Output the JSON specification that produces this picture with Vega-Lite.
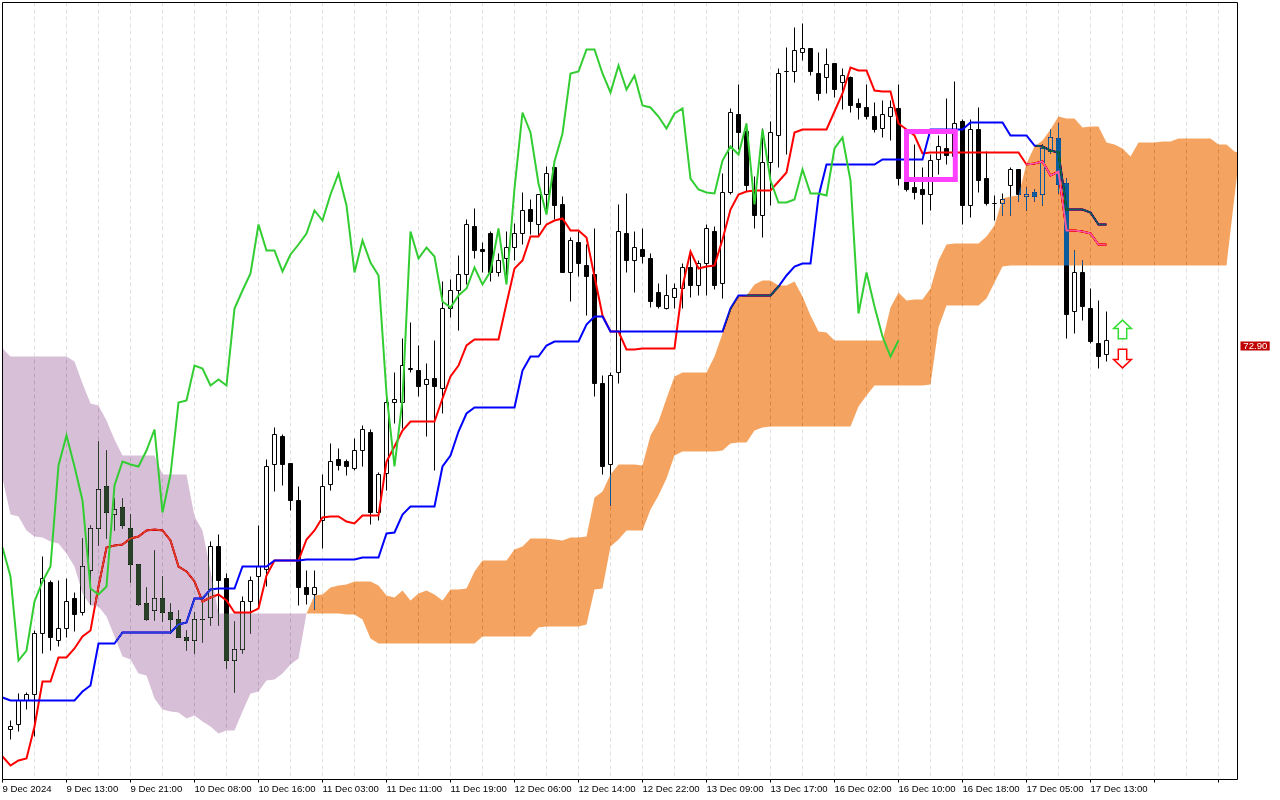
{
  "$schema": "https://vega.github.io/schema/vega-lite/v6.json",
  "description": "Ichimoku candlestick chart, December 2024",
  "width": 1235,
  "height": 777,
  "autosize": {"type": "none"},
  "padding": {"left": 2.5, "top": 2.5, "right": 42.5, "bottom": 20.5},
  "background": "#ffffff",
  "config": {
    "view": {"stroke": null},
    "axis": {"translate": 0, "labelFont": "Liberation Sans", "labelFontSize": 9.6, "labelColor": "#000000", "title": null, "domain": false, "tickColor": "#000000", "gridColor": "#e2e2e2", "gridDash": [4, 3], "gridWidth": 1}
  },
  "datasets": {
    "candles": [
      {"i":1,"open":71.221,"high":71.262,"low":71.179,"close":71.235},
      {"i":2,"open":71.243,"high":71.376,"low":71.211,"close":71.347},
      {"i":3,"open":71.347,"high":71.383,"low":71.31,"close":71.374},
      {"i":4,"open":71.374,"high":71.655,"low":71.189,"close":71.641},
      {"i":5,"open":71.641,"high":71.976,"low":71.551,"close":71.88},
      {"i":6,"open":71.864,"high":71.874,"low":71.568,"close":71.622},
      {"i":7,"open":71.612,"high":71.874,"low":71.583,"close":71.663},
      {"i":8,"open":71.663,"high":71.883,"low":71.622,"close":71.781},
      {"i":9,"open":71.794,"high":71.82,"low":71.651,"close":71.723},
      {"i":10,"open":71.731,"high":72.054,"low":71.721,"close":71.933},
      {"i":11,"open":71.918,"high":72.115,"low":71.769,"close":72.1},
      {"i":12,"open":72.1,"high":72.482,"low":72.027,"close":72.271},
      {"i":13,"open":72.285,"high":72.443,"low":72.056,"close":72.169},
      {"i":14,"open":72.161,"high":72.229,"low":72.09,"close":72.183},
      {"i":15,"open":72.192,"high":72.233,"low":72.1,"close":72.112},
      {"i":16,"open":72.1,"high":72.163,"low":71.863,"close":71.943},
      {"i":17,"open":71.944,"high":71.944,"low":71.762,"close":71.769},
      {"i":18,"open":71.772,"high":71.842,"low":71.699,"close":71.702},
      {"i":19,"open":71.742,"high":72.005,"low":71.699,"close":71.794},
      {"i":20,"open":71.794,"high":71.892,"low":71.691,"close":71.731},
      {"i":21,"open":71.733,"high":71.772,"low":71.641,"close":71.702},
      {"i":22,"open":71.702,"high":71.743,"low":71.622,"close":71.622},
      {"i":23,"open":71.623,"high":71.655,"low":71.568,"close":71.609},
      {"i":24,"open":71.609,"high":71.734,"low":71.551,"close":71.702},
      {"i":25,"open":71.702,"high":71.777,"low":71.6,"close":71.704},
      {"i":26,"open":71.711,"high":72.045,"low":71.677,"close":72.02},
      {"i":27,"open":72.021,"high":72.075,"low":71.677,"close":71.871},
      {"i":28,"open":71.882,"high":71.903,"low":71.489,"close":71.521},
      {"i":29,"open":71.521,"high":71.695,"low":71.381,"close":71.571},
      {"i":30,"open":71.571,"high":71.801,"low":71.551,"close":71.779},
      {"i":31,"open":71.779,"high":71.892,"low":71.641,"close":71.871},
      {"i":32,"open":71.889,"high":72.115,"low":71.758,"close":71.933},
      {"i":33,"open":71.921,"high":72.403,"low":71.848,"close":72.37},
      {"i":34,"open":72.38,"high":72.542,"low":72.261,"close":72.51},
      {"i":35,"open":72.501,"high":72.51,"low":72.29,"close":72.379},
      {"i":36,"open":72.382,"high":72.382,"low":72.18,"close":72.221},
      {"i":37,"open":72.223,"high":72.285,"low":71.762,"close":71.841},
      {"i":38,"open":71.842,"high":71.914,"low":71.769,"close":71.811},
      {"i":39,"open":71.811,"high":71.914,"low":71.747,"close":71.842},
      {"i":40,"open":72.137,"high":72.334,"low":72.014,"close":72.283},
      {"i":41,"open":72.293,"high":72.472,"low":72.268,"close":72.392},
      {"i":42,"open":72.402,"high":72.45,"low":72.353,"close":72.377},
      {"i":43,"open":72.393,"high":72.402,"low":72.331,"close":72.369},
      {"i":44,"open":72.361,"high":72.494,"low":72.353,"close":72.44},
      {"i":45,"open":72.442,"high":72.552,"low":72.37,"close":72.533},
      {"i":46,"open":72.52,"high":72.533,"low":72.119,"close":72.172},
      {"i":47,"open":72.172,"high":72.345,"low":72.137,"close":72.334},
      {"i":48,"open":72.341,"high":72.684,"low":72.268,"close":72.651},
      {"i":49,"open":72.651,"high":72.783,"low":72.56,"close":72.662},
      {"i":50,"open":72.651,"high":72.931,"low":72.538,"close":72.813},
      {"i":51,"open":72.797,"high":73.001,"low":72.783,"close":72.799},
      {"i":52,"open":72.791,"high":72.899,"low":72.679,"close":72.72},
      {"i":53,"open":72.73,"high":72.822,"low":72.501,"close":72.752},
      {"i":54,"open":72.754,"high":72.924,"low":72.353,"close":72.72},
      {"i":55,"open":72.713,"high":73.182,"low":72.603,"close":73.063},
      {"i":56,"open":73.061,"high":73.191,"low":73.022,"close":73.141},
      {"i":57,"open":73.141,"high":73.292,"low":72.968,"close":73.211},
      {"i":58,"open":73.211,"high":73.452,"low":73.168,"close":73.43},
      {"i":59,"open":73.423,"high":73.5,"low":73.281,"close":73.318},
      {"i":60,"open":73.321,"high":73.351,"low":73.219,"close":73.311},
      {"i":61,"open":73.391,"high":73.398,"low":73.179,"close":73.22},
      {"i":62,"open":73.22,"high":73.303,"low":73.201,"close":73.273},
      {"i":63,"open":73.28,"high":73.401,"low":73.208,"close":73.328},
      {"i":64,"open":73.329,"high":73.434,"low":73.271,"close":73.391},
      {"i":65,"open":73.391,"high":73.57,"low":73.34,"close":73.491},
      {"i":66,"open":73.493,"high":73.541,"low":73.388,"close":73.442},
      {"i":67,"open":73.43,"high":73.561,"low":73.383,"close":73.561},
      {"i":68,"open":73.561,"high":73.682,"low":73.478,"close":73.653},
      {"i":69,"open":73.679,"high":73.682,"low":73.453,"close":73.512},
      {"i":70,"open":73.515,"high":73.554,"low":73.219,"close":73.219},
      {"i":71,"open":73.22,"high":73.373,"low":73.092,"close":73.36},
      {"i":72,"open":73.351,"high":73.398,"low":73.201,"close":73.259},
      {"i":73,"open":73.251,"high":73.34,"low":73.031,"close":73.201},
      {"i":74,"open":73.211,"high":73.413,"low":72.679,"close":72.732},
      {"i":75,"open":72.732,"high":72.77,"low":72.338,"close":72.37},
      {"i":76,"open":72.38,"high":72.783,"low":72.202,"close":72.768},
      {"i":77,"open":72.783,"high":73.515,"low":72.735,"close":73.398},
      {"i":78,"open":73.391,"high":73.563,"low":73.219,"close":73.271},
      {"i":79,"open":73.271,"high":73.401,"low":73.131,"close":73.328},
      {"i":80,"open":73.321,"high":73.413,"low":73.26,"close":73.289},
      {"i":81,"open":73.282,"high":73.304,"low":73.066,"close":73.092},
      {"i":82,"open":73.133,"high":73.172,"low":73.06,"close":73.07},
      {"i":83,"open":73.06,"high":73.212,"low":73.056,"close":73.12},
      {"i":84,"open":73.111,"high":73.172,"low":73.063,"close":73.151},
      {"i":85,"open":73.151,"high":73.26,"low":73.063,"close":73.242},
      {"i":86,"open":73.242,"high":73.311,"low":73.111,"close":73.162},
      {"i":87,"open":73.162,"high":73.274,"low":73.118,"close":73.257},
      {"i":88,"open":73.257,"high":73.43,"low":73.118,"close":73.413},
      {"i":89,"open":73.401,"high":73.42,"low":73.146,"close":73.161},
      {"i":90,"open":73.172,"high":73.654,"low":73.107,"close":73.57},
      {"i":91,"open":73.569,"high":73.935,"low":73.559,"close":73.92},
      {"i":92,"open":73.912,"high":74.044,"low":73.756,"close":73.831},
      {"i":93,"open":73.836,"high":73.872,"low":73.573,"close":73.6},
      {"i":94,"open":73.578,"high":73.639,"low":73.41,"close":73.468},
      {"i":95,"open":73.468,"high":73.85,"low":73.372,"close":73.702},
      {"i":96,"open":73.702,"high":73.88,"low":73.512,"close":73.833},
      {"i":97,"open":73.818,"high":74.113,"low":73.678,"close":74.091},
      {"i":98,"open":74.098,"high":74.203,"low":73.734,"close":74.1},
      {"i":99,"open":74.098,"high":74.292,"low":74.05,"close":74.192},
      {"i":100,"open":74.181,"high":74.31,"low":74.149,"close":74.2},
      {"i":101,"open":74.2,"high":74.2,"low":74.081,"close":74.098},
      {"i":102,"open":74.091,"high":74.183,"low":73.971,"close":74.003},
      {"i":103,"open":74.072,"high":74.2,"low":74.003,"close":74.13},
      {"i":104,"open":74.132,"high":74.132,"low":73.986,"close":74.018},
      {"i":105,"open":74.052,"high":74.113,"low":73.931,"close":74.082},
      {"i":106,"open":74.073,"high":74.076,"low":73.919,"close":73.95},
      {"i":107,"open":73.961,"high":73.982,"low":73.887,"close":73.941},
      {"i":108,"open":73.942,"high":74.044,"low":73.887,"close":73.901},
      {"i":109,"open":73.904,"high":73.963,"low":73.831,"close":73.847},
      {"i":110,"open":73.85,"high":73.974,"low":73.81,"close":73.912},
      {"i":111,"open":73.901,"high":73.974,"low":73.799,"close":73.942},
      {"i":112,"open":73.935,"high":74.044,"low":73.6,"close":73.632},
      {"i":113,"open":73.632,"high":73.66,"low":73.575,"close":73.581},
      {"i":114,"open":73.592,"high":73.78,"low":73.54,"close":73.569},
      {"i":115,"open":73.583,"high":73.68,"low":73.43,"close":73.562},
      {"i":116,"open":73.562,"high":73.734,"low":73.49,"close":73.709},
      {"i":117,"open":73.712,"high":73.821,"low":73.65,"close":73.77},
      {"i":118,"open":73.763,"high":73.982,"low":73.69,"close":73.732},
      {"i":119,"open":73.729,"high":74.054,"low":73.7,"close":73.872},
      {"i":120,"open":73.881,"high":73.887,"low":73.43,"close":73.512},
      {"i":121,"open":73.513,"high":73.887,"low":73.461,"close":73.843},
      {"i":122,"open":73.843,"high":73.942,"low":73.569,"close":73.621},
      {"i":123,"open":73.632,"high":73.751,"low":73.513,"close":73.522},
      {"i":124,"open":73.521,"high":73.556,"low":73.449,"close":73.522},
      {"i":125,"open":73.521,"high":73.563,"low":73.47,"close":73.54},
      {"i":126,"open":73.601,"high":73.68,"low":73.467,"close":73.671},
      {"i":127,"open":73.671,"high":73.671,"low":73.53,"close":73.56},
      {"i":128,"open":73.553,"high":73.592,"low":73.49,"close":73.562},
      {"i":129,"open":73.57,"high":73.583,"low":73.53,"close":73.551},
      {"i":130,"open":73.562,"high":73.78,"low":73.511,"close":73.763},
      {"i":131,"open":73.748,"high":73.843,"low":73.741,"close":73.811},
      {"i":132,"open":73.804,"high":73.872,"low":73.566,"close":73.605},
      {"i":133,"open":73.61,"high":73.632,"low":72.932,"close":73.038},
      {"i":134,"open":73.048,"high":73.314,"low":72.951,"close":73.22},
      {"i":135,"open":73.22,"high":73.274,"low":73.009,"close":73.07},
      {"i":136,"open":73.063,"high":73.151,"low":72.907,"close":72.92},
      {"i":137,"open":72.911,"high":73.095,"low":72.8,"close":72.851},
      {"i":138,"open":72.862,"high":73.051,"low":72.83,"close":72.923}
    ],
    "ichimoku": [
      {"i":0,"tenkan":71.101,"kijun":71.36,"chikou":72.017},
      {"i":1,"tenkan":71.064,"kijun":71.347,"chikou":71.889},
      {"i":2,"tenkan":71.084,"kijun":71.347,"chikou":71.524},
      {"i":3,"tenkan":71.094,"kijun":71.347,"chikou":71.568},
      {"i":4,"tenkan":71.233,"kijun":71.347,"chikou":71.779},
      {"i":5,"tenkan":71.43,"kijun":71.347,"chikou":71.867},
      {"i":6,"tenkan":71.43,"kijun":71.347,"chikou":71.935},
      {"i":7,"tenkan":71.537,"kijun":71.347,"chikou":72.377},
      {"i":8,"tenkan":71.537,"kijun":71.347,"chikou":72.508},
      {"i":9,"tenkan":71.575,"kijun":71.347,"chikou":72.37},
      {"i":10,"tenkan":71.626,"kijun":71.389,"chikou":72.224},
      {"i":11,"tenkan":71.655,"kijun":71.412,"chikou":71.838},
      {"i":12,"tenkan":71.845,"kijun":71.599,"chikou":71.811},
      {"i":13,"tenkan":72.017,"kijun":71.599,"chikou":71.845},
      {"i":14,"tenkan":72.026,"kijun":71.599,"chikou":72.287},
      {"i":15,"tenkan":72.029,"kijun":71.644,"chikou":72.392},
      {"i":16,"tenkan":72.054,"kijun":71.644,"chikou":72.38},
      {"i":17,"tenkan":72.064,"kijun":71.644,"chikou":72.373},
      {"i":18,"tenkan":72.093,"kijun":71.644,"chikou":72.443},
      {"i":19,"tenkan":72.094,"kijun":71.644,"chikou":72.533},
      {"i":20,"tenkan":72.09,"kijun":71.644,"chikou":72.17},
      {"i":21,"tenkan":72.049,"kijun":71.644,"chikou":72.334},
      {"i":22,"tenkan":71.935,"kijun":71.682,"chikou":72.651},
      {"i":23,"tenkan":71.911,"kijun":71.689,"chikou":72.659},
      {"i":24,"tenkan":71.867,"kijun":71.794,"chikou":72.813},
      {"i":25,"tenkan":71.779,"kijun":71.794,"chikou":72.801},
      {"i":26,"tenkan":71.798,"kijun":71.833,"chikou":72.724},
      {"i":27,"tenkan":71.81,"kijun":71.839,"chikou":72.752},
      {"i":28,"tenkan":71.787,"kijun":71.839,"chikou":72.724},
      {"i":29,"tenkan":71.731,"kijun":71.839,"chikou":73.063},
      {"i":30,"tenkan":71.731,"kijun":71.935,"chikou":73.139},
      {"i":31,"tenkan":71.731,"kijun":71.935,"chikou":73.216},
      {"i":32,"tenkan":71.749,"kijun":71.935,"chikou":73.428},
      {"i":33,"tenkan":71.896,"kijun":71.935,"chikou":73.318},
      {"i":34,"tenkan":71.962,"kijun":71.962,"chikou":73.314},
      {"i":35,"tenkan":71.962,"kijun":71.962,"chikou":73.223},
      {"i":36,"tenkan":71.962,"kijun":71.962,"chikou":73.299},
      {"i":37,"tenkan":71.962,"kijun":71.962,"chikou":73.34},
      {"i":38,"tenkan":72.052,"kijun":71.965,"chikou":73.391},
      {"i":39,"tenkan":72.093,"kijun":71.965,"chikou":73.49},
      {"i":40,"tenkan":72.149,"kijun":71.965,"chikou":73.447},
      {"i":41,"tenkan":72.152,"kijun":71.965,"chikou":73.559},
      {"i":42,"tenkan":72.152,"kijun":71.965,"chikou":73.651},
      {"i":43,"tenkan":72.13,"kijun":71.965,"chikou":73.512},
      {"i":44,"tenkan":72.122,"kijun":71.965,"chikou":73.221},
      {"i":45,"tenkan":72.155,"kijun":71.971,"chikou":73.358},
      {"i":46,"tenkan":72.157,"kijun":71.974,"chikou":73.264},
      {"i":47,"tenkan":72.157,"kijun":71.974,"chikou":73.206},
      {"i":48,"tenkan":72.392,"kijun":72.08,"chikou":72.691},
      {"i":49,"tenkan":72.458,"kijun":72.082,"chikou":72.373},
      {"i":50,"tenkan":72.528,"kijun":72.159,"chikou":72.662},
      {"i":51,"tenkan":72.567,"kijun":72.195,"chikou":73.398},
      {"i":52,"tenkan":72.567,"kijun":72.195,"chikou":73.282},
      {"i":53,"tenkan":72.567,"kijun":72.195,"chikou":73.327},
      {"i":54,"tenkan":72.567,"kijun":72.195,"chikou":73.289},
      {"i":55,"tenkan":72.669,"kijun":72.37,"chikou":73.092},
      {"i":56,"tenkan":72.764,"kijun":72.417,"chikou":73.067},
      {"i":57,"tenkan":72.815,"kijun":72.523,"chikou":73.121},
      {"i":58,"tenkan":72.902,"kijun":72.603,"chikou":73.15},
      {"i":59,"tenkan":72.928,"kijun":72.627,"chikou":73.242},
      {"i":60,"tenkan":72.928,"kijun":72.627,"chikou":73.165},
      {"i":61,"tenkan":72.928,"kijun":72.627,"chikou":73.223},
      {"i":62,"tenkan":72.928,"kijun":72.627,"chikou":73.41},
      {"i":63,"tenkan":73.084,"kijun":72.627,"chikou":73.165},
      {"i":64,"tenkan":73.238,"kijun":72.627,"chikou":73.587},
      {"i":65,"tenkan":73.274,"kijun":72.793,"chikou":73.918},
      {"i":66,"tenkan":73.376,"kijun":72.851,"chikou":73.831},
      {"i":67,"tenkan":73.376,"kijun":72.851,"chikou":73.609},
      {"i":68,"tenkan":73.431,"kijun":72.902,"chikou":73.475},
      {"i":69,"tenkan":73.449,"kijun":72.92,"chikou":73.704},
      {"i":70,"tenkan":73.455,"kijun":72.92,"chikou":73.828},
      {"i":71,"tenkan":73.402,"kijun":72.92,"chikou":74.09},
      {"i":72,"tenkan":73.402,"kijun":72.92,"chikou":74.098},
      {"i":73,"tenkan":73.373,"kijun":72.994,"chikou":74.193},
      {"i":74,"tenkan":73.201,"kijun":73.029,"chikou":74.197},
      {"i":75,"tenkan":73.033,"kijun":73.029,"chikou":74.09},
      {"i":76,"tenkan":72.961,"kijun":72.961,"chikou":74.006},
      {"i":77,"tenkan":72.961,"kijun":72.961,"chikou":74.127},
      {"i":78,"tenkan":72.885,"kijun":72.961,"chikou":74.022},
      {"i":79,"tenkan":72.885,"kijun":72.961,"chikou":74.08},
      {"i":80,"tenkan":72.889,"kijun":72.961,"chikou":73.949},
      {"i":81,"tenkan":72.889,"kijun":72.961,"chikou":73.942},
      {"i":82,"tenkan":72.889,"kijun":72.961,"chikou":73.901},
      {"i":83,"tenkan":72.889,"kijun":72.961,"chikou":73.85},
      {"i":84,"tenkan":72.889,"kijun":72.961,"chikou":73.913},
      {"i":85,"tenkan":73.158,"kijun":72.961,"chikou":73.937},
      {"i":86,"tenkan":73.311,"kijun":72.961,"chikou":73.631},
      {"i":87,"tenkan":73.238,"kijun":72.961,"chikou":73.583},
      {"i":88,"tenkan":73.248,"kijun":72.961,"chikou":73.57},
      {"i":89,"tenkan":73.251,"kijun":72.961,"chikou":73.563},
      {"i":90,"tenkan":73.362,"kijun":72.961,"chikou":73.708},
      {"i":91,"tenkan":73.493,"kijun":73.063,"chikou":73.77},
      {"i":92,"tenkan":73.559,"kijun":73.121,"chikou":73.734},
      {"i":93,"tenkan":73.573,"kijun":73.121,"chikou":73.872},
      {"i":94,"tenkan":73.578,"kijun":73.121,"chikou":73.515},
      {"i":95,"tenkan":73.578,"kijun":73.121,"chikou":73.843},
      {"i":96,"tenkan":73.578,"kijun":73.121,"chikou":73.624},
      {"i":97,"tenkan":73.617,"kijun":73.158,"chikou":73.527},
      {"i":98,"tenkan":73.657,"kijun":73.206,"chikou":73.525},
      {"i":99,"tenkan":73.833,"kijun":73.248,"chikou":73.541},
      {"i":100,"tenkan":73.843,"kijun":73.257,"chikou":73.671},
      {"i":101,"tenkan":73.845,"kijun":73.26,"chikou":73.566},
      {"i":102,"tenkan":73.845,"kijun":73.551,"chikou":73.566},
      {"i":103,"tenkan":73.846,"kijun":73.69,"chikou":73.556},
      {"i":104,"tenkan":73.923,"kijun":73.69,"chikou":73.763},
      {"i":105,"tenkan":74.003,"kijun":73.69,"chikou":73.811},
      {"i":106,"tenkan":74.116,"kijun":73.69,"chikou":73.624},
      {"i":107,"tenkan":74.103,"kijun":73.69,"chikou":73.042},
      {"i":108,"tenkan":74.103,"kijun":73.69,"chikou":73.221},
      {"i":109,"tenkan":74.015,"kijun":73.69,"chikou":73.069},
      {"i":110,"tenkan":74.011,"kijun":73.712,"chikou":72.939},
      {"i":111,"tenkan":74.011,"kijun":73.712,"chikou":72.851},
      {"i":112,"tenkan":73.872,"kijun":73.712,"chikou":72.924},
      {"i":113,"tenkan":73.843,"kijun":73.712},
      {"i":114,"tenkan":73.817,"kijun":73.712},
      {"i":115,"tenkan":73.738,"kijun":73.712},
      {"i":116,"tenkan":73.743,"kijun":73.846},
      {"i":117,"tenkan":73.743,"kijun":73.846},
      {"i":118,"tenkan":73.743,"kijun":73.846},
      {"i":119,"tenkan":73.743,"kijun":73.846},
      {"i":120,"tenkan":73.745,"kijun":73.843},
      {"i":121,"tenkan":73.745,"kijun":73.875},
      {"i":122,"tenkan":73.745,"kijun":73.875},
      {"i":123,"tenkan":73.745,"kijun":73.875},
      {"i":124,"tenkan":73.745,"kijun":73.875},
      {"i":125,"tenkan":73.745,"kijun":73.875},
      {"i":126,"tenkan":73.745,"kijun":73.818},
      {"i":127,"tenkan":73.745,"kijun":73.818},
      {"i":128,"tenkan":73.69,"kijun":73.818},
      {"i":129,"tenkan":73.697,"kijun":73.777},
      {"i":130,"tenkan":73.705,"kijun":73.77},
      {"i":131,"tenkan":73.646,"kijun":73.755},
      {"i":132,"tenkan":73.661,"kijun":73.744},
      {"i":133,"tenkan":73.403,"kijun":73.496},
      {"i":134,"tenkan":73.403,"kijun":73.496},
      {"i":135,"tenkan":73.398,"kijun":73.493},
      {"i":136,"tenkan":73.391,"kijun":73.483},
      {"i":137,"tenkan":73.343,"kijun":73.429},
      {"i":138,"tenkan":73.34,"kijun":73.429}
    ],
    "cloud": [
      {"i":0,"top":72.888,"bottom":72.319,"kumo":"down"},
      {"i":1,"top":72.854,"bottom":72.159,"kumo":"down"},
      {"i":2,"top":72.854,"bottom":72.151,"kumo":"down"},
      {"i":3,"top":72.854,"bottom":72.093,"kumo":"down"},
      {"i":4,"top":72.854,"bottom":72.064,"kumo":"down"},
      {"i":5,"top":72.854,"bottom":72.061,"kumo":"down"},
      {"i":6,"top":72.854,"bottom":72.042,"kumo":"down"},
      {"i":7,"top":72.854,"bottom":72.035,"kumo":"down"},
      {"i":8,"top":72.854,"bottom":71.991,"kumo":"down"},
      {"i":9,"top":72.829,"bottom":71.933,"kumo":"down"},
      {"i":10,"top":72.734,"bottom":71.816,"kumo":"down"},
      {"i":11,"top":72.647,"bottom":71.765,"kumo":"down"},
      {"i":12,"top":72.64,"bottom":71.758,"kumo":"down"},
      {"i":13,"top":72.574,"bottom":71.714,"kumo":"down"},
      {"i":14,"top":72.487,"bottom":71.626,"kumo":"down"},
      {"i":15,"top":72.417,"bottom":71.539,"kumo":"down"},
      {"i":16,"top":72.417,"bottom":71.529,"kumo":"down"},
      {"i":17,"top":72.417,"bottom":71.466,"kumo":"down"},
      {"i":18,"top":72.417,"bottom":71.456,"kumo":"down"},
      {"i":19,"top":72.417,"bottom":71.357,"kumo":"down"},
      {"i":20,"top":72.338,"bottom":71.31,"kumo":"down"},
      {"i":21,"top":72.338,"bottom":71.298,"kumo":"down"},
      {"i":22,"top":72.338,"bottom":71.294,"kumo":"down"},
      {"i":23,"top":72.338,"bottom":71.269,"kumo":"down"},
      {"i":24,"top":72.151,"bottom":71.284,"kumo":"down"},
      {"i":25,"top":72.093,"bottom":71.254,"kumo":"down"},
      {"i":26,"top":71.918,"bottom":71.233,"kumo":"down"},
      {"i":27,"top":71.728,"bottom":71.204,"kumo":"down"},
      {"i":28,"top":71.728,"bottom":71.218,"kumo":"down"},
      {"i":29,"top":71.728,"bottom":71.215,"kumo":"down"},
      {"i":30,"top":71.728,"bottom":71.298,"kumo":"down"},
      {"i":31,"top":71.728,"bottom":71.378,"kumo":"down"},
      {"i":32,"top":71.728,"bottom":71.386,"kumo":"down"},
      {"i":33,"top":71.728,"bottom":71.437,"kumo":"down"},
      {"i":34,"top":71.728,"bottom":71.44,"kumo":"down"},
      {"i":35,"top":71.728,"bottom":71.466,"kumo":"down"},
      {"i":36,"top":71.728,"bottom":71.507,"kumo":"down"},
      {"i":37,"top":71.728,"bottom":71.532,"kumo":"down"},
      {"i":38,"top":71.728,"bottom":71.728,"kumo":"down"},
      {"i":38,"top":71.729,"bottom":71.729,"kumo":"up"},
      {"i":39,"top":71.809,"bottom":71.726,"kumo":"up"},
      {"i":40,"top":71.813,"bottom":71.726,"kumo":"up"},
      {"i":41,"top":71.841,"bottom":71.726,"kumo":"up"},
      {"i":42,"top":71.851,"bottom":71.726,"kumo":"up"},
      {"i":43,"top":71.857,"bottom":71.723,"kumo":"up"},
      {"i":44,"top":71.869,"bottom":71.723,"kumo":"up"},
      {"i":45,"top":71.869,"bottom":71.7,"kumo":"up"},
      {"i":46,"top":71.866,"bottom":71.62,"kumo":"up"},
      {"i":47,"top":71.851,"bottom":71.598,"kumo":"up"},
      {"i":48,"top":71.809,"bottom":71.598,"kumo":"up"},
      {"i":49,"top":71.797,"bottom":71.598,"kumo":"up"},
      {"i":50,"top":71.828,"bottom":71.598,"kumo":"up"},
      {"i":51,"top":71.787,"bottom":71.598,"kumo":"up"},
      {"i":52,"top":71.816,"bottom":71.598,"kumo":"up"},
      {"i":53,"top":71.827,"bottom":71.598,"kumo":"up"},
      {"i":54,"top":71.813,"bottom":71.598,"kumo":"up"},
      {"i":55,"top":71.783,"bottom":71.598,"kumo":"up"},
      {"i":56,"top":71.831,"bottom":71.598,"kumo":"up"},
      {"i":57,"top":71.831,"bottom":71.598,"kumo":"up"},
      {"i":58,"top":71.838,"bottom":71.598,"kumo":"up"},
      {"i":59,"top":71.911,"bottom":71.598,"kumo":"up"},
      {"i":60,"top":71.962,"bottom":71.627,"kumo":"up"},
      {"i":61,"top":71.962,"bottom":71.627,"kumo":"up"},
      {"i":62,"top":71.962,"bottom":71.627,"kumo":"up"},
      {"i":63,"top":71.962,"bottom":71.627,"kumo":"up"},
      {"i":64,"top":72.009,"bottom":71.627,"kumo":"up"},
      {"i":65,"top":72.023,"bottom":71.627,"kumo":"up"},
      {"i":66,"top":72.057,"bottom":71.627,"kumo":"up"},
      {"i":67,"top":72.057,"bottom":71.668,"kumo":"up"},
      {"i":68,"top":72.054,"bottom":71.671,"kumo":"up"},
      {"i":69,"top":72.053,"bottom":71.671,"kumo":"up"},
      {"i":70,"top":72.047,"bottom":71.671,"kumo":"up"},
      {"i":71,"top":72.061,"bottom":71.671,"kumo":"up"},
      {"i":72,"top":72.061,"bottom":71.671,"kumo":"up"},
      {"i":73,"top":72.064,"bottom":71.678,"kumo":"up"},
      {"i":74,"top":72.236,"bottom":71.831,"kumo":"up"},
      {"i":75,"top":72.261,"bottom":71.838,"kumo":"up"},
      {"i":76,"top":72.334,"bottom":72.02,"kumo":"up"},
      {"i":77,"top":72.378,"bottom":72.05,"kumo":"up"},
      {"i":78,"top":72.378,"bottom":72.093,"kumo":"up"},
      {"i":79,"top":72.378,"bottom":72.093,"kumo":"up"},
      {"i":80,"top":72.377,"bottom":72.093,"kumo":"up"},
      {"i":81,"top":72.508,"bottom":72.181,"kumo":"up"},
      {"i":82,"top":72.567,"bottom":72.246,"kumo":"up"},
      {"i":83,"top":72.669,"bottom":72.32,"kumo":"up"},
      {"i":84,"top":72.763,"bottom":72.421,"kumo":"up"},
      {"i":85,"top":72.781,"bottom":72.438,"kumo":"up"},
      {"i":86,"top":72.781,"bottom":72.438,"kumo":"up"},
      {"i":87,"top":72.781,"bottom":72.438,"kumo":"up"},
      {"i":88,"top":72.781,"bottom":72.438,"kumo":"up"},
      {"i":89,"top":72.851,"bottom":72.438,"kumo":"up"},
      {"i":90,"top":72.953,"bottom":72.441,"kumo":"up"},
      {"i":91,"top":73.062,"bottom":72.472,"kumo":"up"},
      {"i":92,"top":73.116,"bottom":72.475,"kumo":"up"},
      {"i":93,"top":73.121,"bottom":72.475,"kumo":"up"},
      {"i":94,"top":73.169,"bottom":72.53,"kumo":"up"},
      {"i":95,"top":73.183,"bottom":72.542,"kumo":"up"},
      {"i":96,"top":73.186,"bottom":72.545,"kumo":"up"},
      {"i":97,"top":73.161,"bottom":72.545,"kumo":"up"},
      {"i":98,"top":73.164,"bottom":72.545,"kumo":"up"},
      {"i":99,"top":73.182,"bottom":72.545,"kumo":"up"},
      {"i":100,"top":73.113,"bottom":72.545,"kumo":"up"},
      {"i":101,"top":73.033,"bottom":72.545,"kumo":"up"},
      {"i":102,"top":72.96,"bottom":72.545,"kumo":"up"},
      {"i":103,"top":72.957,"bottom":72.545,"kumo":"up"},
      {"i":104,"top":72.921,"bottom":72.545,"kumo":"up"},
      {"i":105,"top":72.921,"bottom":72.545,"kumo":"up"},
      {"i":106,"top":72.921,"bottom":72.545,"kumo":"up"},
      {"i":107,"top":72.921,"bottom":72.632,"kumo":"up"},
      {"i":108,"top":72.921,"bottom":72.683,"kumo":"up"},
      {"i":109,"top":72.921,"bottom":72.727,"kumo":"up"},
      {"i":110,"top":72.921,"bottom":72.727,"kumo":"up"},
      {"i":111,"top":73.067,"bottom":72.727,"kumo":"up"},
      {"i":112,"top":73.132,"bottom":72.727,"kumo":"up"},
      {"i":113,"top":73.099,"bottom":72.727,"kumo":"up"},
      {"i":114,"top":73.103,"bottom":72.727,"kumo":"up"},
      {"i":115,"top":73.103,"bottom":72.727,"kumo":"up"},
      {"i":116,"top":73.15,"bottom":72.73,"kumo":"up"},
      {"i":117,"top":73.274,"bottom":72.98,"kumo":"up"},
      {"i":118,"top":73.344,"bottom":73.077,"kumo":"up"},
      {"i":119,"top":73.347,"bottom":73.077,"kumo":"up"},
      {"i":120,"top":73.347,"bottom":73.077,"kumo":"up"},
      {"i":121,"top":73.347,"bottom":73.077,"kumo":"up"},
      {"i":122,"top":73.347,"bottom":73.077,"kumo":"up"},
      {"i":123,"top":73.379,"bottom":73.107,"kumo":"up"},
      {"i":124,"top":73.427,"bottom":73.177,"kumo":"up"},
      {"i":125,"top":73.544,"bottom":73.248,"kumo":"up"},
      {"i":126,"top":73.551,"bottom":73.252,"kumo":"up"},
      {"i":127,"top":73.558,"bottom":73.252,"kumo":"up"},
      {"i":128,"top":73.697,"bottom":73.252,"kumo":"up"},
      {"i":129,"top":73.77,"bottom":73.252,"kumo":"up"},
      {"i":130,"top":73.799,"bottom":73.252,"kumo":"up"},
      {"i":131,"top":73.843,"bottom":73.252,"kumo":"up"},
      {"i":132,"top":73.904,"bottom":73.252,"kumo":"up"},
      {"i":133,"top":73.894,"bottom":73.252,"kumo":"up"},
      {"i":134,"top":73.894,"bottom":73.252,"kumo":"up"},
      {"i":135,"top":73.854,"bottom":73.252,"kumo":"up"},
      {"i":136,"top":73.86,"bottom":73.252,"kumo":"up"},
      {"i":137,"top":73.86,"bottom":73.252,"kumo":"up"},
      {"i":138,"top":73.789,"bottom":73.252,"kumo":"up"},
      {"i":139,"top":73.78,"bottom":73.252,"kumo":"up"},
      {"i":140,"top":73.763,"bottom":73.252,"kumo":"up"},
      {"i":141,"top":73.726,"bottom":73.252,"kumo":"up"},
      {"i":142,"top":73.789,"bottom":73.252,"kumo":"up"},
      {"i":143,"top":73.789,"bottom":73.252,"kumo":"up"},
      {"i":144,"top":73.789,"bottom":73.252,"kumo":"up"},
      {"i":145,"top":73.792,"bottom":73.252,"kumo":"up"},
      {"i":146,"top":73.792,"bottom":73.252,"kumo":"up"},
      {"i":147,"top":73.806,"bottom":73.252,"kumo":"up"},
      {"i":148,"top":73.806,"bottom":73.252,"kumo":"up"},
      {"i":149,"top":73.806,"bottom":73.252,"kumo":"up"},
      {"i":150,"top":73.806,"bottom":73.252,"kumo":"up"},
      {"i":151,"top":73.806,"bottom":73.252,"kumo":"up"},
      {"i":152,"top":73.781,"bottom":73.252,"kumo":"up"},
      {"i":153,"top":73.78,"bottom":73.252,"kumo":"up"},
      {"i":154,"top":73.748,"bottom":73.551,"kumo":"up"},
      {"i":154.375,"top":73.745,"bottom":73.66,"kumo":"up"}
    ]
  },
  "encoding": {
    "x": {
      "field": "i",
      "type": "quantitative",
      "scale": {"domain": [0, 154.375], "nice": false, "zero": false, "padding": 0},
      "axis": {
        "values": [0,4,8,12,16,20,24,28,32,36,40,44,48,52,56,60,64,68,72,76,80,84,88,92,96,100,104,108,112,116,120,124,128,132,136,140,144,148,152],
        "grid": true,
        "tickSize": 3,
        "tickOpacity": {"condition": {"test": "datum.value % 8 == 0", "value": 1}, "value": 0},
        "labelAlign": "left",
        "labelBaseline": "top",
        "labelPadding": 1,
        "labelFlush": false,
        "labelBound": false,
        "labelOverlap": false,
        "labelExpr": "datum.value % 8 == 0 ? (['9 Dec 2024','9 Dec 13:00','9 Dec 21:00','10 Dec 08:00','10 Dec 16:00','11 Dec 03:00','11 Dec 11:00','11 Dec 19:00','12 Dec 06:00','12 Dec 14:00','12 Dec 22:00','13 Dec 09:00','13 Dec 17:00','16 Dec 02:00','16 Dec 10:00','16 Dec 18:00','17 Dec 05:00','17 Dec 13:00'][datum.value / 8] || '') : ''"
      }
    }
  },
  "layer": [
    {
      "data": {"values": [{"price": 72.9}]},
      "mark": {"type": "rule", "color": "#c00000", "strokeWidth": 1},
      "encoding": {
        "x": {"datum": 0, "type": "quantitative"},
        "x2": {"datum": 154.375},
        "y": {
          "field": "price",
          "type": "quantitative",
          "scale": {"domain": [71.002, 74.4006], "nice": false, "zero": false, "round": true},
          "axis": {
            "orient": "right",
            "values": [71.15,71.3,71.45,71.6,71.75,71.9,72.05,72.2,72.35,72.5,72.65,72.8,72.95,73.1,73.25,73.4,73.55,73.7,73.85,74,74.15,74.3],
            "format": ".2f",
            "grid": true,
            "tickSize": 3,
            "labelPadding": 2,
            "labelFlush": false,
            "labelBound": false,
            "labelOverlap": false
          }
        }
      }
    },
    {
      "data": {"name": "candles"},
      "mark": {"type": "rule", "color": "#000000", "strokeWidth": 1},
      "encoding": {
        "y": {"field": "low", "type": "quantitative", "scale": {"domain": [71.002, 74.4006], "nice": false, "zero": false, "round": true}, "axis": null},
        "y2": {"field": "high"}
      }
    },
    {
      "data": {"name": "candles"},
      "mark": {"type": "bar", "size": 4, "orient": "vertical", "stroke": "#000000", "strokeWidth": 1},
      "encoding": {
        "y": {"field": "open", "type": "quantitative", "scale": {"domain": [71.002, 74.4006], "nice": false, "zero": false, "round": true}, "axis": null, "stack": null},
        "y2": {"field": "close"},
        "fill": {"condition": {"test": "datum.close >= datum.open", "value": "#ffffff"}, "value": "#000000"}
      }
    },
    {
      "data": {"name": "ichimoku"},
      "mark": {"type": "line", "color": "#ff0000", "strokeWidth": 2},
      "encoding": {
        "y": {"field": "tenkan", "type": "quantitative", "scale": {"domain": [71.002, 74.4006], "nice": false, "zero": false, "round": true}, "axis": null}
      }
    },
    {
      "data": {"name": "ichimoku"},
      "mark": {"type": "line", "color": "#0000ff", "strokeWidth": 2},
      "encoding": {
        "y": {"field": "kijun", "type": "quantitative", "scale": {"domain": [71.002, 74.4006], "nice": false, "zero": false, "round": true}, "axis": null}
      }
    },
    {
      "data": {"name": "cloud"},
      "mark": {"type": "area", "blend": "difference"},
      "encoding": {
        "y": {"field": "top", "type": "quantitative", "scale": {"domain": [71.002, 74.4006], "nice": false, "zero": false, "round": true}, "axis": null, "stack": null},
        "y2": {"field": "bottom"},
        "color": {"field": "kumo", "type": "nominal", "legend": null, "scale": {"domain": ["down", "up"], "range": ["#274027", "#0b5b9f"]}}
      }
    },
    {
      "data": {"name": "ichimoku"},
      "transform": [{"filter": "isValid(datum.chikou)"}],
      "mark": {"type": "line", "color": "#32cd32", "strokeWidth": 2},
      "encoding": {
        "y": {"field": "chikou", "type": "quantitative", "scale": {"domain": [71.002, 74.4006], "nice": false, "zero": false, "round": true}, "axis": null}
      }
    },
    {
      "data": {"values": [{"from": 113, "to": 119.1, "top": 73.836, "bottom": 73.626}]},
      "mark": {"type": "rect", "filled": false, "stroke": "#ff40ff", "strokeWidth": 5},
      "encoding": {
        "x": {"field": "from", "type": "quantitative"},
        "x2": {"field": "to"},
        "y": {"field": "top", "type": "quantitative", "scale": {"domain": [71.002, 74.4006], "nice": false, "zero": false, "round": true}, "axis": null},
        "y2": {"field": "bottom"}
      }
    },
    {
      "data": {"values": [{"i": 140, "price": 72.97}]},
      "mark": {"type": "point", "shape": "M0,-1L0.95,-0.1L0.45,-0.1L0.45,1L-0.45,1L-0.45,-0.1L-0.95,-0.1Z", "size": 350, "filled": true, "fill": "#ffffff", "stroke": "#33dd33", "strokeWidth": 1.5, "opacity": 1},
      "encoding": {
        "y": {"field": "price", "type": "quantitative", "scale": {"domain": [71.002, 74.4006], "nice": false, "zero": false, "round": true}, "axis": null}
      }
    },
    {
      "data": {"values": [{"i": 140, "price": 72.842}]},
      "mark": {"type": "point", "shape": "M0,1L0.95,0.1L0.45,0.1L0.45,-1L-0.45,-1L-0.45,0.1L-0.95,0.1Z", "size": 350, "filled": true, "fill": "#ffffff", "stroke": "#ff0000", "strokeWidth": 1.5, "opacity": 1},
      "encoding": {
        "y": {"field": "price", "type": "quantitative", "scale": {"domain": [71.002, 74.4006], "nice": false, "zero": false, "round": true}, "axis": null}
      }
    },
    {
      "data": {"values": [{"from": 154.75, "to": 158.4, "top": 72.92, "bottom": 72.878}]},
      "mark": {"type": "rect", "fill": "#c00000"},
      "encoding": {
        "x": {"field": "from", "type": "quantitative"},
        "x2": {"field": "to"},
        "y": {"field": "top", "type": "quantitative", "scale": {"domain": [71.002, 74.4006], "nice": false, "zero": false, "round": true}, "axis": null},
        "y2": {"field": "bottom"}
      }
    },
    {
      "data": {"values": [{"i": 155.1, "price": 72.9, "label": "72.90"}]},
      "mark": {"type": "text", "align": "left", "baseline": "middle", "color": "#ffffff", "font": "Liberation Sans", "fontSize": 9.6},
      "encoding": {
        "y": {"field": "price", "type": "quantitative", "scale": {"domain": [71.002, 74.4006], "nice": false, "zero": false, "round": true}, "axis": null},
        "text": {"field": "label"}
      }
    },
    {
      "data": {"values": [{"from": 0, "to": 154.375, "top": 74.4006, "bottom": 71.002}]},
      "mark": {"type": "rect", "filled": false, "stroke": "#000000", "strokeWidth": 1},
      "encoding": {
        "x": {"field": "from", "type": "quantitative"},
        "x2": {"field": "to"},
        "y": {"field": "top", "type": "quantitative", "scale": {"domain": [71.002, 74.4006], "nice": false, "zero": false, "round": true}, "axis": null},
        "y2": {"field": "bottom"}
      }
    }
  ]
}
